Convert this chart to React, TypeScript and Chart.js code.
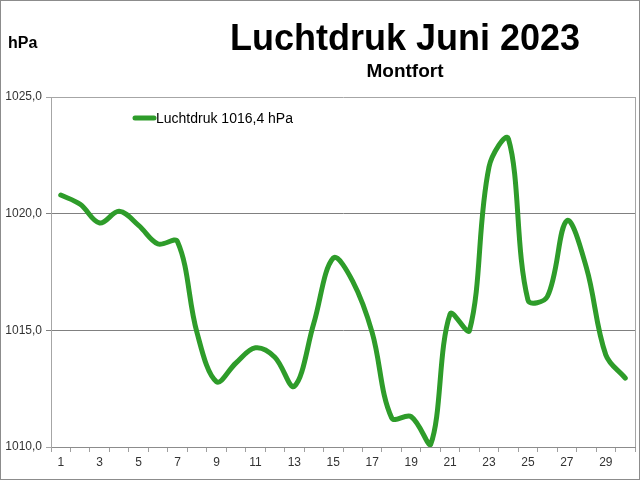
import React, { useEffect, useRef } from "react";
import { Chart, registerables } from "chart.js";

Chart.register(...registerables);

const days: string[] = Array.from({ length: 30 }, (_, i) => String(i + 1));
const pressure: number[] = [
  1020.8, 1020.4, 1019.6, 1020.1, 1019.5, 1018.7, 1018.8, 1014.9, 1012.8, 1013.6,
  1014.25, 1013.85, 1012.6, 1015.3, 1018.1, 1017.1, 1014.9, 1011.25, 1011.3, 1010.1,
  1015.7, 1015.0, 1022.0, 1023.2, 1016.3, 1016.45, 1019.7, 1017.7, 1013.95, 1012.95,
];
const seriesLabel = "Luchtdruk 1016,4 hPa";
const titleText = "Luchtdruk Juni 2023";
const subtitleText = "Montfort";
const unitText = "hPa";
const yTicks: number[] = [1010, 1015, 1020, 1025];

const FONT = "'Liberation Sans', Arial, sans-serif";
const GREEN = "#2e9c2a";

const decorPlugin = {
  id: "decor",
  afterDraw(chart: any) {
    const ctx = chart.ctx as CanvasRenderingContext2D;
    const ca = chart.chartArea;
    ctx.save();
    // plot area right border
    ctx.strokeStyle = "#a6a6a6";
    ctx.lineWidth = 1;
    ctx.beginPath();
    ctx.moveTo(Math.round(ca.right) + 0.5, ca.top);
    ctx.lineTo(Math.round(ca.right) + 0.5, ca.bottom);
    ctx.stroke();
    // outer border
    ctx.strokeStyle = "#8c8c8c";
    ctx.strokeRect(0.5, 0.5, chart.width - 1, chart.height - 1);
    // titles
    ctx.fillStyle = "#000";
    ctx.textBaseline = "alphabetic";
    ctx.textAlign = "center";
    ctx.font = `bold 36px ${FONT}`;
    ctx.fillText(titleText, 405, 50);
    ctx.font = `bold 19px ${FONT}`;
    ctx.fillText(subtitleText, 405, 77);
    ctx.textAlign = "left";
    ctx.font = `bold 16px ${FONT}`;
    ctx.fillText(unitText, 8, 48);
    // legend
    const ds = chart.data.datasets[0];
    ctx.strokeStyle = ds.borderColor;
    ctx.lineWidth = 5;
    ctx.lineCap = "round";
    ctx.beginPath();
    ctx.moveTo(135, 118);
    ctx.lineTo(154, 118);
    ctx.stroke();
    ctx.fillStyle = "#000";
    ctx.font = `14px ${FONT}`;
    ctx.fillText(ds.label, 156, 123);
    ctx.restore();
  },
};

export default function App() {
  const ref = useRef<HTMLCanvasElement | null>(null);
  useEffect(() => {
    if (!ref.current) return;
    const chart = new Chart(ref.current, {
      type: "line",
      data: {
        labels: days,
        datasets: [
          {
            label: seriesLabel,
            data: pressure,
            borderColor: GREEN,
            backgroundColor: GREEN,
            borderWidth: 5,
            pointRadius: 0,
            tension: 0.36,
            borderCapStyle: "round",
            borderJoinStyle: "round",
            fill: false,
          },
        ],
      },
      options: {
        responsive: false,
        animation: false,
        devicePixelRatio: 1,
        layout: { padding: { top: 97, right: 5, left: 0, bottom: 0 } },
        plugins: {
          legend: { display: false },
          title: { display: false },
          tooltip: { enabled: false },
        },
        scales: {
          x: {
            type: "category",
            offset: true,
            grid: {
              offset: true,
              drawOnChartArea: false,
              drawTicks: true,
              tickLength: 5,
              color: "#a0a0a0",
            },
            border: { display: true, color: "#8c8c8c" },
            ticks: {
              autoSkip: false,
              maxRotation: 0,
              padding: 3,
              color: "#333",
              font: { family: FONT, size: 12 },
              callback: (_v: any, i: number) => (i % 2 === 0 ? days[i] : ""),
            },
            afterFit: (s: any) => {
              s.height = 33;
            },
          },
          y: {
            min: yTicks[0],
            max: yTicks[yTicks.length - 1],
            afterBuildTicks: (s: any) => {
              s.ticks = yTicks.map((v) => ({ value: v }));
            },
            grid: {
              tickLength: 5,
              color: (c: any) =>
                c.tick && (c.tick.value === 1025 || c.tick.value === 1010) ? "#a6a6a6" : "#808080",
            },
            border: { display: true, color: "#a6a6a6" },
            ticks: {
              padding: 4,
              color: "#333",
              font: { family: FONT, size: 12 },
              callback: (v: any) => Number(v).toFixed(1).replace(".", ","),
            },
            afterFit: (s: any) => {
              s.width = 51;
            },
          },
        },
      },
      plugins: [decorPlugin],
    });
    return () => chart.destroy();
  }, []);
  return (
    <div style={{ position: "absolute", left: 0, top: 0, width: 640, height: 480, background: "#fff" }}>
      <canvas ref={ref} width={640} height={480} style={{ display: "block" }} />
    </div>
  );
}
